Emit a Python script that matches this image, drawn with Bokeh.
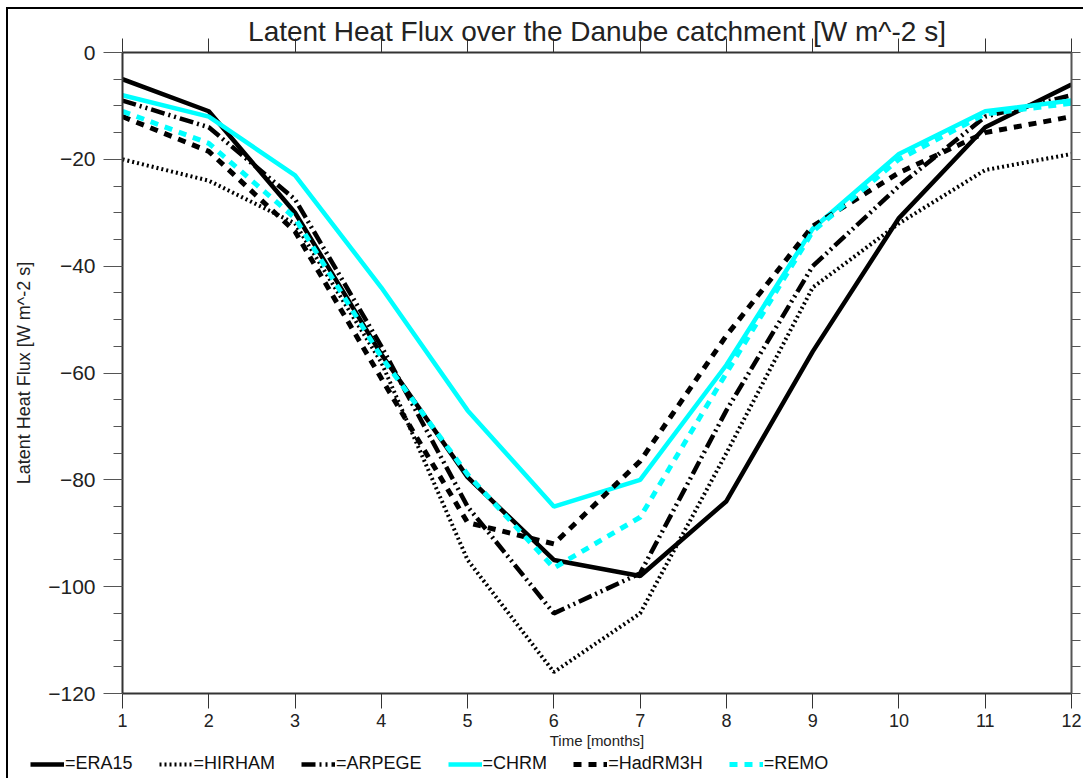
from bokeh.plotting import figure
from bokeh.layouts import column
from bokeh.models import (Range1d, LinearAxis, SingleIntervalTicker, FixedTicker,
                          Legend, LegendItem, CustomJSTickFormatter, Column)
from bokeh.embed import file_html
from bokeh.resources import INLINE

months = [1, 2, 3, 4, 5, 6, 7, 8, 9, 10, 11, 12]
era15 = [-5, -11, -30, -56.5, -79.5, -95, -98, -84, -56, -31, -14, -6]
hirham = [-20, -24, -32, -58, -95, -116, -105, -75, -44, -32, -22, -19]
arpege = [-9, -14, -27.5, -55, -85, -105, -97.5, -67, -40, -25, -12, -8]
chrm = [-8, -12, -23, -44, -67, -85, -80, -58.5, -33, -19, -11, -9]
hadrm3h = [-12, -18.5, -33.5, -61, -88, -92, -76.5, -53, -32.5, -22.5, -15, -12]
remo = [-11, -17, -31, -57, -79, -96.5, -87, -60, -33.5, -20, -11.5, -9.5]

series = [("=ERA15", era15), ("=HIRHAM", hirham), ("=ARPEGE", arpege),
          ("=CHRM", chrm), ("=HadRM3H", hadrm3h), ("=REMO", remo)]

FONT = "Liberation Sans"
AX = "#333333"
CYAN = "#00ffff"
STYLES = [
    dict(line_color="black", line_width=4.5),
    dict(line_color="black", line_width=4, line_dash="2 3"),
    dict(line_color="black", line_width=4.5, line_dash="14 4 2 4 2 4"),
    dict(line_color=CYAN, line_width=4.5),
    dict(line_color="black", line_width=5, line_dash="8 7"),
    dict(line_color=CYAN, line_width=5, line_dash="8 7"),
]
BLANK = CustomJSTickFormatter(code="return '';")

p = figure(width=1075, height=744, output_backend="svg", toolbar_location=None,
           x_range=Range1d(1, 12), y_range=Range1d(-120, 0),
           x_axis_location=None, y_axis_location=None,
           min_border_left=114, min_border_right=12, min_border_top=43, min_border_bottom=60)
p.grid.visible = False
p.outline_line_color = None
p.background_fill_color = "white"
p.border_fill_color = "white"

p.title.text = "Latent Heat Flux over the Danube catchment [W m^-2 s]"
p.title.align = "center"
p.title.text_font = FONT
p.title.text_font_style = "normal"
p.title.text_font_size = "28px"
p.title.text_color = "#222222"
p.title.standoff = -16

# bottom axis
xb = LinearAxis(ticker=FixedTicker(ticks=months, minor_ticks=[]),
                axis_label="Time [months]")
xb.major_tick_out = 15
xb.major_tick_in = 0
xb.minor_tick_out = 0
xb.major_label_standoff = 5
xb.major_label_text_font = FONT
xb.major_label_text_font_size = "18px"
xb.major_label_text_color = "#222222"
xb.axis_label_text_font = FONT
xb.axis_label_text_font_style = "normal"
xb.axis_label_text_font_size = "15px"
xb.axis_label_text_color = "#222222"
xb.axis_label_standoff = 2
xb.axis_line_color = AX
xb.axis_line_width = 2
xb.major_tick_line_color = AX
p.add_layout(xb, "below")

# top axis
xt = LinearAxis(ticker=FixedTicker(ticks=months, minor_ticks=[]), formatter=BLANK)
xt.major_tick_out = 14
xt.major_tick_in = 0
xt.major_label_standoff = 0
xt.axis_line_color = AX
xt.axis_line_width = 2
xt.major_tick_line_color = AX
p.add_layout(xt, "above")

# left axis
yl = LinearAxis(ticker=SingleIntervalTicker(interval=20, num_minor_ticks=4),
                axis_label="Latent Heat Flux [W m^-2 s]")
yl.formatter = CustomJSTickFormatter(code="return tick < 0 ? '\u2212' + Math.abs(tick) : String(tick);")
yl.major_tick_out = 19
yl.major_tick_in = 0
yl.minor_tick_out = 9
yl.minor_tick_in = 0
yl.major_label_standoff = 8
yl.major_label_text_font = FONT
yl.major_label_text_font_size = "21px"
yl.major_label_text_color = "#222222"
yl.axis_label_text_font = FONT
yl.axis_label_text_font_style = "normal"
yl.axis_label_text_font_size = "18px"
yl.axis_label_text_color = "#222222"
yl.axis_label_standoff = 11
yl.axis_line_color = AX
yl.axis_line_width = 2
yl.major_tick_line_color = "#555555"
yl.minor_tick_line_color = "#555555"
p.add_layout(yl, "left")

# right axis
yr = LinearAxis(ticker=SingleIntervalTicker(interval=5, num_minor_ticks=0), formatter=BLANK)
yr.major_tick_out = 9
yr.major_tick_in = 0
yr.minor_tick_out = 0
yr.major_label_standoff = 0
yr.axis_line_color = "#555555"
yr.axis_line_width = 2
yr.major_tick_line_color = "#555555"
p.add_layout(yr, "right")

for (name, vals), st in zip(series, STYLES):
    p.line(months, vals, **st)

# legend strip below the chart (its lines lie outside its own view)
lf = figure(width=1075, height=25, output_backend="svg", toolbar_location=None,
            x_range=Range1d(100, 101), y_range=Range1d(100, 101),
            x_axis_location=None, y_axis_location=None,
            min_border_left=0, min_border_right=0, min_border_top=0, min_border_bottom=0)
lf.grid.visible = False
lf.outline_line_color = None
lf.border_fill_color = "white"
items = []
for (name, vals), st in zip(series, STYLES):
    r = lf.line(months, vals, **st)
    items.append(LegendItem(label=name, renderers=[r]))

legend = Legend(items=items, orientation="horizontal", location=(22, 4))
legend.border_line_alpha = 0
legend.background_fill_alpha = 0
legend.padding = 0
legend.margin = 0
legend.spacing = 26
legend.glyph_width = 34
legend.glyph_height = 16
legend.label_standoff = 1
legend.label_text_font = FONT
legend.label_text_font_size = "18px"
legend.label_text_color = "#111111"
legend.label_height = 16
lf.add_layout(legend, "center")

layout = column(p, Column(children=[lf]), spacing=0)
layout.styles = {"border-left": "2px solid black", "border-top": "2px solid black",
                 "margin-left": "6px", "margin-top": "7px"}

open("out.html", "w").write(file_html(layout, INLINE))
